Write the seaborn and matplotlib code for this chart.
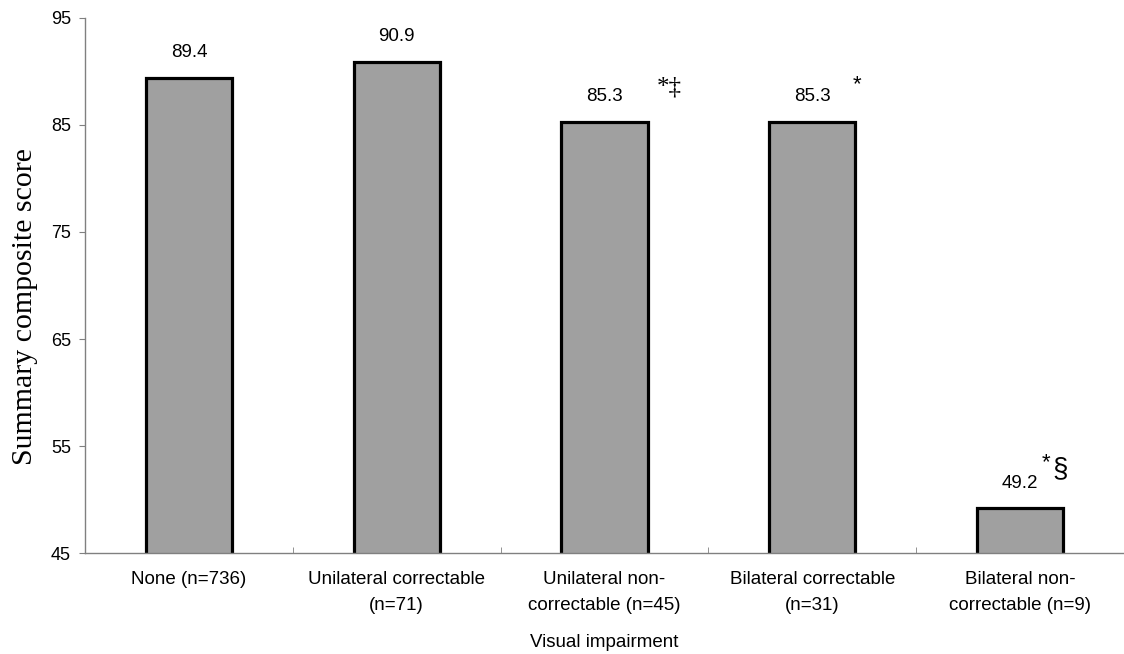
import matplotlib
matplotlib.use('Agg')
import matplotlib.pyplot as plt
import seaborn as sns
import pandas as pd
from matplotlib.ticker import FixedLocator

# data
categories = ['None (n=736)', 'Unilateral correctable\n(n=71)',
              'Unilateral non-\ncorrectable (n=45)', 'Bilateral correctable\n(n=31)',
              'Bilateral non-\ncorrectable (n=9)']
scores = [89.4, 90.9, 85.3, 85.3, 49.2]
yticks = [45, 55, 65, 75, 85, 95]

df = pd.DataFrame({'group': categories, 'score': scores})

sns.set_style('white')
plt.rcParams['font.family'] = ['Liberation Sans', 'DejaVu Sans']
plt.rcParams['text.color'] = 'black'
plt.rcParams['axes.labelcolor'] = 'black'
plt.rcParams['xtick.labelcolor'] = 'black'
plt.rcParams['ytick.labelcolor'] = 'black'

fig = plt.figure(figsize=(11.24, 6.54), dpi=100)
ax = fig.add_axes([0.0756, 0.1544, 0.9244, 0.8181])

sns.barplot(data=df, x='group', y='score', color='#a0a0a0', saturation=1,
            width=0.415, edgecolor='black', linewidth=2.3, ax=ax)

ax.set_ylim(45, 95)
ax.set_xlim(-0.5, 4.5)
ax.set_yticks(yticks)
ax.tick_params(axis='y', direction='out', length=4, color='#808080',
               labelsize=13, pad=6, left=True)
ax.tick_params(axis='x', which='major', length=0, labelsize=13.5, pad=13)
for lab in ax.get_xticklabels():
    lab.set_linespacing(1.7)
ax.xaxis.set_minor_locator(FixedLocator([0.5, 1.5, 2.5, 3.5]))
ax.tick_params(axis='x', which='minor', direction='in', length=4,
               color='#808080', bottom=True)

for s in ['top', 'right']:
    ax.spines[s].set_visible(False)
for s in ['left', 'bottom']:
    ax.spines[s].set_color('#808080')
    ax.spines[s].set_linewidth(1)

ax.set_ylabel('Summary composite score', fontsize=21.5,
              family=['Liberation Serif', 'DejaVu Serif'])
ax.yaxis.set_label_coords(-0.045, 0.46)
ax.set_xlabel('Visual impairment', fontsize=13.5, labelpad=14)

for i, v in enumerate(scores):
    ax.annotate(f'{v:.1f}', xy=(i, v), xytext=(0, 18), textcoords='offset points',
                ha='center', va='center', fontsize=13.5)

# significance markers
ax.annotate('*‡', xy=(2, scores[2]), xytext=(47, 25), textcoords='offset points',
            ha='center', va='center', fontsize=18,
            family=['Liberation Serif', 'DejaVu Serif'])
ax.annotate('*', xy=(3, scores[3]), xytext=(32, 27), textcoords='offset points',
            ha='center', va='center', fontsize=16)
ax.annotate('*', xy=(4, scores[4]), xytext=(19, 33), textcoords='offset points',
            ha='center', va='center', fontsize=16)
ax.annotate('§', xy=(4, scores[4]), xytext=(29, 28), textcoords='offset points',
            ha='center', va='center', fontsize=20)

fig.savefig('out.png', dpi=100)
